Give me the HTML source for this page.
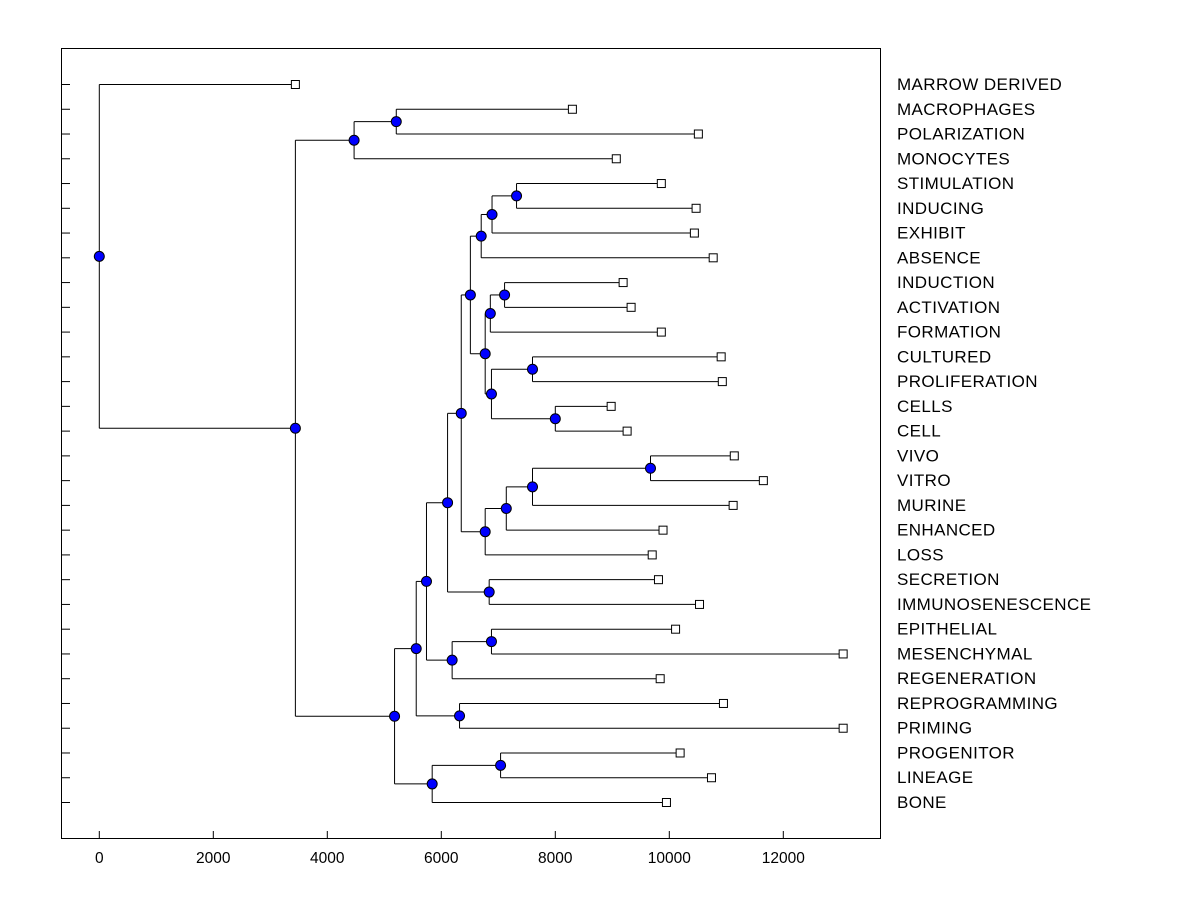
<!DOCTYPE html>
<html><head><meta charset="utf-8"><style>
body{margin:0;background:#fff;}
svg text{font-family:"Liberation Sans",Arial,sans-serif;}
</style></head><body>
<svg id="c" width="1200" height="900" xmlns="http://www.w3.org/2000/svg">
<rect x="0" y="0" width="1200" height="900" fill="#fff"/>
<rect x="61.5" y="48.5" width="819" height="790" fill="none" stroke="#000"/>
<g id="g"></g>
</svg>
<script>
const leafNames=["MARROW DERIVED","MACROPHAGES","POLARIZATION","MONOCYTES","STIMULATION","INDUCING","EXHIBIT","ABSENCE","INDUCTION","ACTIVATION","FORMATION","CULTURED","PROLIFERATION","CELLS","CELL","VIVO","VITRO","MURINE","ENHANCED","LOSS","SECRETION","IMMUNOSENESCENCE","EPITHELIAL","MESENCHYMAL","REGENERATION","REPROGRAMMING","PRIMING","PROGENITOR","LINEAGE","BONE"];
const leafHeights=[3440,8300,10510,9070,9860,10470,10440,10770,9190,9330,9860,10910,10930,8980,9260,11140,11650,11120,9890,9700,9810,10530,10110,13050,9840,10950,13050,10190,10740,9950];
const merges=[
 [1,2,5210],[ "m0",3,4470],[4,5,7320],["m2",6,6890],["m3",7,6700],
 [8,9,7110],["m5",10,6860],[11,12,7600],[13,14,8000],["m7","m8",6880],
 ["m6","m9",6770],["m4","m10",6510],[15,16,9670],["m12",17,7600],["m13",18,7140],
 ["m14",19,6770],["m11","m15",6350],[20,21,6840],["m16","m17",6110],[22,23,6880],
 ["m19",24,6190],["m18","m20",5740],[25,26,6320],["m21","m22",5560],[27,28,7040],
 ["m24",29,5840],["m23","m25",5180],["m1","m26",3440],[0,"m27",0]
];
const xTicks=[0,2000,4000,6000,8000,10000,12000];
const NS="http://www.w3.org/2000/svg";
const g=document.getElementById('g');
const X=v=>99.3+v*0.057;
const Y=i=>84+i*(802-84)/29;
function mk(t,a){const e=document.createElementNS(NS,t);for(const k in a)e.setAttribute(k,a[k]);g.appendChild(e);return e;}
xTicks.forEach(t=>{
 const l=mk('line',{x1:X(t),x2:X(t),y1:838,y2:831,stroke:'#000'});
 
 
 const tx=mk('text',{x:X(t),y:863,'text-anchor':'middle','font-size':'15.5'});
 tx.textContent=t;
 
 
});
leafNames.forEach((n,i)=>{
 const l=mk('line',{x1:61,x2:70,y1:Y(i)+0.5,y2:Y(i)+0.5,stroke:'#000'});
 
 
 const tx=mk('text',{x:897,y:Y(i)+6,'font-size':'17','letter-spacing':'0.4'});
 tx.textContent=n;
 
 
});
const pos={};
function P(c){if(typeof c==='number')return {x:X(leafHeights[c]),y:Y(c)};return pos[c];}
const lines=[],nodes=[];
merges.forEach((m,k)=>{
 const a=P(m[0]),b=P(m[1]);const x=X(m[2]);const y=(a.y+b.y)/2;
 pos['m'+k]={x,y};
 lines.push([x,a.y,x,b.y]);lines.push([x,a.y,a.x,a.y]);lines.push([x,b.y,b.x,b.y]);
 nodes.push([x,y]);
});
lines.forEach(s=>{
 const l=mk('line',{x1:s[0],y1:s[1]+0.5,x2:s[2],y2:s[3]+0.5,stroke:'#000','stroke-width':1});
 
 
});
leafNames.forEach((n,i)=>{
 const r=mk('rect',{x:X(leafHeights[i])-4,y:Y(i)-3.5,width:8,height:8,fill:'#fff',stroke:'#000'});
 
 
});
nodes.forEach(p=>{
 const c=mk('circle',{cx:p[0],cy:p[1]+0.5,r:5,fill:'#0000ff',stroke:'#000'});
 
 
});
</script>
</body></html>
